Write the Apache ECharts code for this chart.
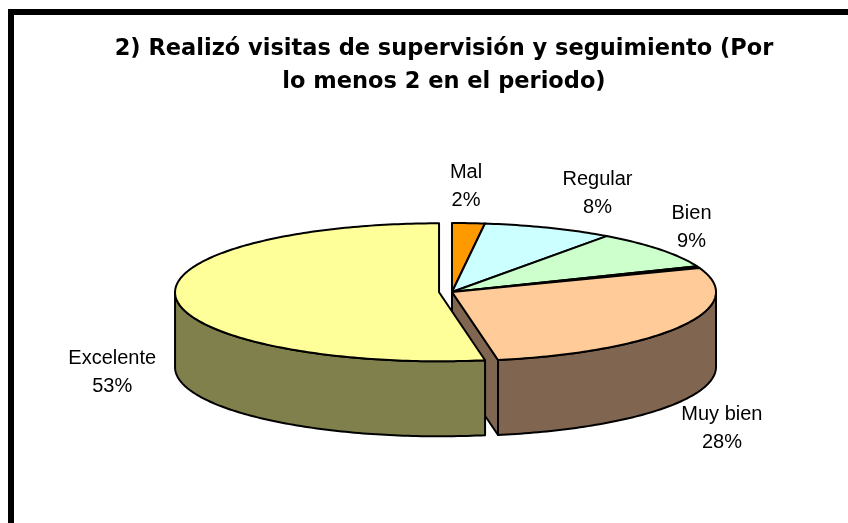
<!DOCTYPE html>
<html>
<head>
<meta charset="utf-8">
<script src="https://cdn.jsdelivr.net/npm/echarts@6/dist/echarts.min.js"></script>
<style>
  html, body { margin: 0; padding: 0; background: #fff; }
  #chart { width: 848px; height: 523px; }
</style>
</head>
<body>
<div id="chart"></div>
<script>
// data
const categories = ['Mal', 'Regular', 'Bien', '', 'Muy bien', 'Excelente'];
const values = [2, 8, 9, 0.4, 28, 53];
const topColors = ['#FF9900', '#CCFFFF', '#CCFFCC', '#99CCCC', '#FFCC99', '#FFFF99'];
const sideColors = ['#804C00', '#668080', '#668066', '#669999', '#806650', '#80804C'];
const explode = [0, 0, 0, 0, 0, 13];

// layout of the fake 3d pie
const cx = 452, cy = 292, rx = 264, ry = 69, depth = 75;
const labelGap = 40;
const labelShift = { 'Mal': [-5, 3], 'Regular': [34, 3], 'Bien': [0, 3], 'Muy bien': [6, 7], 'Excelente': [-24, -4] };

const total = values.reduce((s, v) => s + v, 0);
let acc = 0;
const slices = values.map((v, i) => {
  const a = acc / total * Math.PI * 2;
  acc += v;
  const b = acc / total * Math.PI * 2;
  const m = (a + b) / 2;
  const e = explode[i];
  return { a, b, m, off: [e * Math.sin(m), -e * Math.cos(m) * ry / rx] };
});
const n = slices.length;

function rim(t, z, off) {
  return [cx + off[0] + rx * Math.sin(t), cy + off[1] - ry * Math.cos(t) + z];
}
function arc(a, b, z, off) {
  const pts = [];
  const steps = Math.max(2, Math.ceil((b - a) / (Math.PI / 180)));
  for (let k = 0; k <= steps; k++) pts.push(rim(a + (b - a) * k / steps, z, off));
  return pts;
}
const lineStyle = { stroke: '#000', lineWidth: 2, lineJoin: 'round' };

function face(t, off, i) {
  const apex = [cx + off[0], cy + off[1]];
  return {
    type: 'polygon',
    shape: { points: [apex, rim(t, 0, off), rim(t, depth, off), [apex[0], apex[1] + depth]] },
    style: Object.assign({ fill: sideColors[i] }, lineStyle)
  };
}

function renderFaces(params) {
  const i = params.dataIndex, s = slices[i], children = [];
  const prev = (i + n - 1) % n, next = (i + 1) % n;
  if (explode[prev] !== explode[i] && Math.sin(s.a) < -1e-6) children.push(face(s.a, s.off, i));
  if (explode[next] !== explode[i] && Math.sin(s.b) > 1e-6) children.push(face(s.b, s.off, i));
  return { type: 'group', children };
}

function renderWalls(params) {
  const i = params.dataIndex, s = slices[i];
  const s0 = Math.max(s.a, Math.PI / 2), e0 = Math.min(s.b, Math.PI * 1.5);
  if (e0 <= s0) return { type: 'group', children: [] };
  const pts = arc(s0, e0, 0, s.off).concat(arc(s0, e0, depth, s.off).reverse());
  return {
    type: 'polygon',
    shape: { points: pts },
    style: Object.assign({ fill: sideColors[i] }, lineStyle)
  };
}

function renderTops(params) {
  const i = params.dataIndex, s = slices[i];
  const apex = [cx + s.off[0], cy + s.off[1]];
  const children = [{
    type: 'polygon',
    shape: { points: [apex].concat(arc(s.a, s.b, 0, s.off)) },
    style: Object.assign({ fill: topColors[i] }, lineStyle)
  }];
  if (categories[i]) {
    const shift = labelShift[categories[i]] || [0, 0];
    const lx = apex[0] + (rx + labelGap) * Math.sin(s.m) + shift[0];
    const ly = apex[1] - (ry + labelGap) * Math.cos(s.m) + (Math.cos(s.m) < 0 ? depth : 0) + shift[1];
    children.push({
      type: 'text',
      style: {
        text: categories[i] + '\n' + Math.round(values[i] / total * 100) + '%',
        x: lx, y: ly,
        align: 'center', verticalAlign: 'middle',
        fontSize: 20, fontFamily: '"Liberation Sans", Arial, sans-serif',
        lineHeight: 28, fill: '#000'
      }
    });
  }
  return { type: 'group', children };
}

const chart = echarts.init(document.getElementById('chart'));
const seriesData = categories.map((c, i) => ({ name: c, value: values[i] }));

chart.setOption({
  animation: false,
  title: {
    text: '2) Realizó visitas de supervisión y seguimiento (Por\nlo menos 2 en el periodo)',
    left: 444,
    top: 33,
    padding: 0,
    textAlign: 'center',
    textStyle: {
      fontFamily: '"DejaVu Sans", sans-serif',
      fontWeight: 'bold',
      fontSize: 22.5,
      lineHeight: 33,
      color: '#000'
    }
  },
  graphic: [{
    type: 'rect',
    shape: { x: 11, y: 12, width: 1000, height: 1000 },
    style: { fill: 'none', stroke: '#000', lineWidth: 6 },
    silent: true
  }],
  series: [
    { type: 'custom', coordinateSystem: 'none', renderItem: renderFaces, data: seriesData, z: 1 },
    { type: 'custom', coordinateSystem: 'none', renderItem: renderWalls, data: seriesData, z: 2 },
    { type: 'custom', coordinateSystem: 'none', renderItem: renderTops, data: seriesData, z: 3 }
  ]
});
</script>
</body>
</html>
